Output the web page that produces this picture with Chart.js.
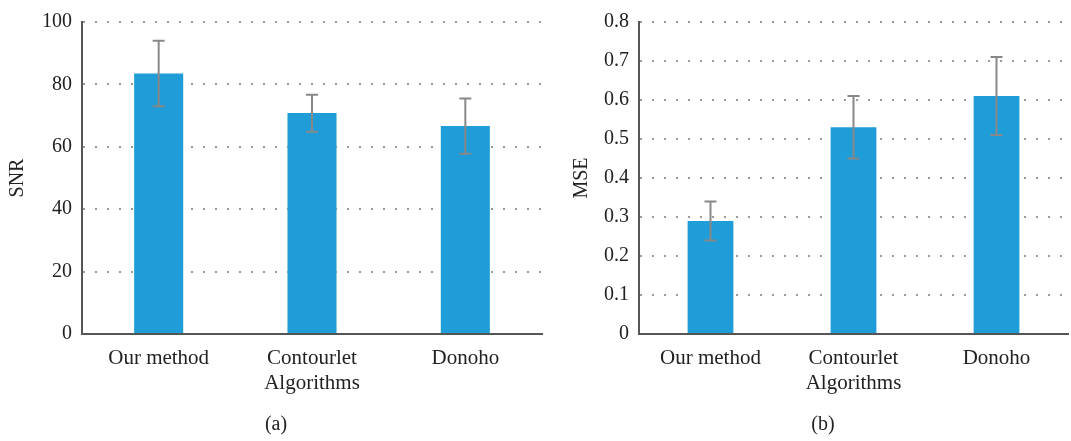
<!DOCTYPE html>
<html>
<head>
<meta charset="utf-8">
<script src="https://cdn.jsdelivr.net/npm/chart.js@4"></script>
<style>
  body { margin: 0; background: #fff; }
  #wrap { position: relative; width: 1071px; height: 441px; }
  canvas { position: absolute; top: 0; }
  .cap { position: absolute; top: 412px; font: 20px "Liberation Serif", serif; color: #222; transform: translateX(-50%); }
</style>
</head>
<body>
<div id="wrap">
  <canvas id="chartSNR" width="545" height="441" style="left:0"></canvas>
  <canvas id="chartMSE" width="526" height="441" style="left:545px"></canvas>
  <div class="cap" style="left:276px">(a)</div>
  <div class="cap" style="left:823px">(b)</div>
</div>
<script>
const algoLabels = ["Our method", "Contourlet", "Donoho"];

// SNR panel (a)
const snrValues = [83.5, 70.8, 66.7];
const snrLow = [73, 64.8, 57.8];
const snrHigh = [94, 76.7, 75.5];

// MSE panel (b)
const mseValues = [0.29, 0.53, 0.61];
const mseLow = [0.24, 0.45, 0.51];
const mseHigh = [0.34, 0.61, 0.71];

const barColor = "#1e9dd8";
const textColor = "#222";
const fontFamily = "'Liberation Serif', 'Times New Roman', serif";

// draws error bars from the dataset's low/high arrays
const errorBars = {
  id: "errorBars",
  afterDatasetsDraw(chart, args, opts) {
    const ctx = chart.ctx;
    const meta = chart.getDatasetMeta(0);
    const y = chart.scales.y;
    ctx.save();
    ctx.strokeStyle = "#888";
    ctx.lineWidth = 2;
    meta.data.forEach((bar, i) => {
      const top = y.getPixelForValue(opts.high[i]);
      const bottom = y.getPixelForValue(opts.low[i]);
      const x = bar.x;
      ctx.beginPath();
      ctx.moveTo(x, top);
      ctx.lineTo(x, bottom);
      ctx.moveTo(x - 6, top);
      ctx.lineTo(x + 6, top);
      ctx.moveTo(x - 6, bottom);
      ctx.lineTo(x + 6, bottom);
      ctx.stroke();
    });
    ctx.restore();
  },
};

function makeChart(id, values, low, high, yTitle, yMax, yStep, yWidth, titlePad) {
  const ctx = document.getElementById(id).getContext("2d");
  return new Chart(ctx, {
    type: "bar",
    data: {
      labels: algoLabels,
      datasets: [
        {
          data: values,
          backgroundColor: barColor,
          barPercentage: 0.32,
          categoryPercentage: 1,
        },
      ],
    },
    options: {
      responsive: false,
      animation: false,
      layout: { padding: { top: 16, right: 3, bottom: 32, left: 0 } },
      plugins: {
        legend: { display: false },
        tooltip: { enabled: false },
        errorBars: { low: low, high: high },
      },
      scales: {
        x: {
          grid: { display: false },
          border: { display: true, color: "#555", width: 2 },
          ticks: { color: textColor, font: { family: fontFamily, size: 21 }, padding: 4 },
          title: {
            display: true,
            text: "Algorithms",
            color: textColor,
            font: { family: fontFamily, size: 21 },
            padding: { top: 0, bottom: 13 },
          },
          afterFit: (s) => { s.height = 75; },
        },
        y: {
          min: 0,
          max: yMax,
          ticks: { stepSize: yStep, color: textColor, font: { family: fontFamily, size: 20 }, padding: 10 },
          grid: { color: "#999", lineWidth: 2, drawTicks: false },
          border: { display: true, color: "#555", width: 2, dash: [2, 10] },
          title: {
            display: true,
            text: yTitle,
            color: textColor,
            font: { family: fontFamily, size: 20 },
            padding: { top: titlePad, bottom: 0 },
          },
          afterFit: (s) => { s.width = yWidth; },
        },
      },
    },
    plugins: [errorBars],
  });
}

makeChart("chartSNR", snrValues, snrLow, snrHigh, "SNR", 100, 20, 82, 6);
makeChart("chartMSE", mseValues, mseLow, mseHigh, "MSE", 0.8, 0.1, 94, 25);
</script>
</body>
</html>
